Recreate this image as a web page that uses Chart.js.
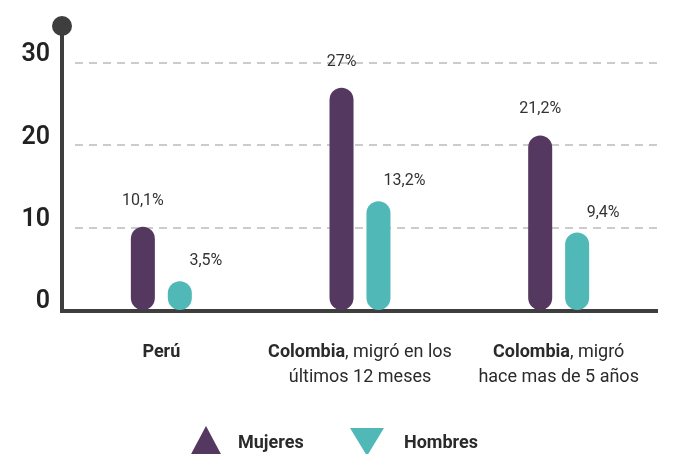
<!DOCTYPE html>
<html>
<head>
<meta charset="utf-8">
<script src="https://cdn.jsdelivr.net/npm/chart.js@4.4.1/dist/chart.umd.min.js"></script>
<style>
  html, body { margin: 0; padding: 0; background: #fff; }
  #wrap { width: 676px; height: 454px; position: relative; }
</style>
</head>
<body>
<div id="wrap"><canvas id="grafico"></canvas></div>
<script>
// datos
var categoriasNegrita = ['Perú', 'Colombia', 'Colombia'];
var categoriasResto = [[''], [', migró en los', 'últimos 12 meses'], [', migró', 'hace mas de 5 años']];
var mujeres = [10.1, 27, 21.2];
var hombres = [3.5, 13.2, 9.4];
var ticksY = [0, 10, 20, 30];
var series = ['Mujeres', 'Hombres'];

var MORADO = '#553860';
var TURQUESA = '#50b8b7';
var EJE = '#3e3e3e';

function fmt(v) {
    return String(v).replace('.', ',') + '%';
}

// ejes, etiquetas y leyenda dibujados a mano
var decoracion = {
    id: 'decoracion',
    beforeDatasetsDraw: function (chart) {
        var ctx = chart.ctx;
        var a = chart.chartArea;
        var y = chart.scales.y;
        ctx.save();
        // lineas punteadas
        ctx.strokeStyle = '#cccccc';
        ctx.lineWidth = 2;
        ctx.setLineDash([8, 6]);
        ticksY.forEach(function (t) {
            if (t === 0) return;
            var py = Math.round(y.getPixelForValue(t));
            ctx.beginPath();
            ctx.moveTo(a.left + 13, py);
            ctx.lineTo(a.right, py);
            ctx.stroke();
        });
        ctx.setLineDash([]);
        // eje vertical con punto
        ctx.strokeStyle = EJE;
        ctx.lineWidth = 4;
        ctx.beginPath();
        ctx.moveTo(a.left, a.top - 37);
        ctx.lineTo(a.left, a.bottom + 3);
        ctx.stroke();
        ctx.fillStyle = EJE;
        ctx.beginPath();
        ctx.arc(a.left, a.top - 37, 10, 0, Math.PI * 2);
        ctx.fill();
        // linea base
        ctx.beginPath();
        ctx.moveTo(a.left, a.bottom + 1);
        ctx.lineTo(a.right, a.bottom + 1);
        ctx.stroke();
        ctx.restore();
    },
    afterDatasetsDraw: function (chart) {
        var ctx = chart.ctx;
        var a = chart.chartArea;
        ctx.save();
        // valores
        ctx.fillStyle = '#333';
        ctx.font = '16px Roboto';
        ctx.textAlign = 'center';
        ctx.textBaseline = 'middle';
        chart.getDatasetMeta(0).data.forEach(function (bar, i) {
            ctx.fillText(fmt(mujeres[i]), bar.x, bar.y - 26);
        });
        chart.getDatasetMeta(1).data.forEach(function (bar, i) {
            ctx.fillText(fmt(hombres[i]), bar.x + 26, bar.y - 20);
        });

        // categorias
        var x = chart.scales.x;
        ctx.fillStyle = '#2a2a2a';
        ctx.textAlign = 'left';
        categoriasNegrita.forEach(function (neg, i) {
            var cx = x.getPixelForValue(i);
            var resto = categoriasResto[i];
            ctx.font = 'bold 18px Roboto';
            var wN = ctx.measureText(neg).width;
            ctx.font = '18px Roboto';
            var wR = ctx.measureText(resto[0]).width;
            var x0 = cx - (wN + wR) / 2;
            var ly = a.bottom + 42;
            ctx.font = 'bold 18px Roboto';
            ctx.fillText(neg, x0, ly);
            ctx.font = '18px Roboto';
            ctx.fillText(resto[0], x0 + wN, ly);
            if (resto[1]) {
                ctx.textAlign = 'center';
                ctx.fillText(resto[1], cx, ly + 25);
                ctx.textAlign = 'left';
            }
        });

        // leyenda
        var ly2 = 443;
        ctx.fillStyle = MORADO;
        ctx.beginPath();
        ctx.moveTo(190, 456);
        ctx.lineTo(206, 426);
        ctx.lineTo(222, 456);
        ctx.closePath();
        ctx.fill();
        ctx.fillStyle = TURQUESA;
        ctx.beginPath();
        ctx.moveTo(350, 428);
        ctx.lineTo(384, 428);
        ctx.lineTo(367, 456);
        ctx.closePath();
        ctx.fill();
        ctx.fillStyle = '#2a2a2a';
        ctx.font = 'bold 18px Roboto';
        ctx.fillText(series[0], 238, ly2);
        ctx.fillText(series[1], 404, ly2);
        ctx.restore();
    }
};

new Chart(document.getElementById('grafico'), {
    type: 'bar',
    data: {
        labels: categoriasNegrita,
        datasets: [{
            label: series[0],
            data: mujeres,
            backgroundColor: MORADO,
            borderRadius: 12,
            borderSkipped: false
        }, {
            label: series[1],
            data: hombres,
            backgroundColor: TURQUESA,
            borderRadius: 12,
            borderSkipped: false
        }]
    },
    options: {
        responsive: true,
        maintainAspectRatio: false,
        animation: false,
        categoryPercentage: 0.372,
        barPercentage: 0.65,
        layout: { padding: { top: 63, right: 18, bottom: 144, left: 0 } },
        scales: {
            x: {
                display: false
            },
            y: {
                min: 0,
                max: 30,
                afterFit: function (s) { s.width = 62; },
                afterBuildTicks: function (s) {
                    s.ticks = ticksY.map(function (v) { return { value: v }; });
                },
                grid: { display: false, drawTicks: false },
                border: { display: false },
                ticks: {
                    padding: 12,
                    labelOffset: -8,
                    color: '#222',
                    font: { family: 'Roboto', size: 25, weight: '600' }
                }
            }
        },
        plugins: {
            legend: { display: false },
            tooltip: { enabled: false }
        }
    },
    plugins: [decoracion]
});
</script>
</body>
</html>
